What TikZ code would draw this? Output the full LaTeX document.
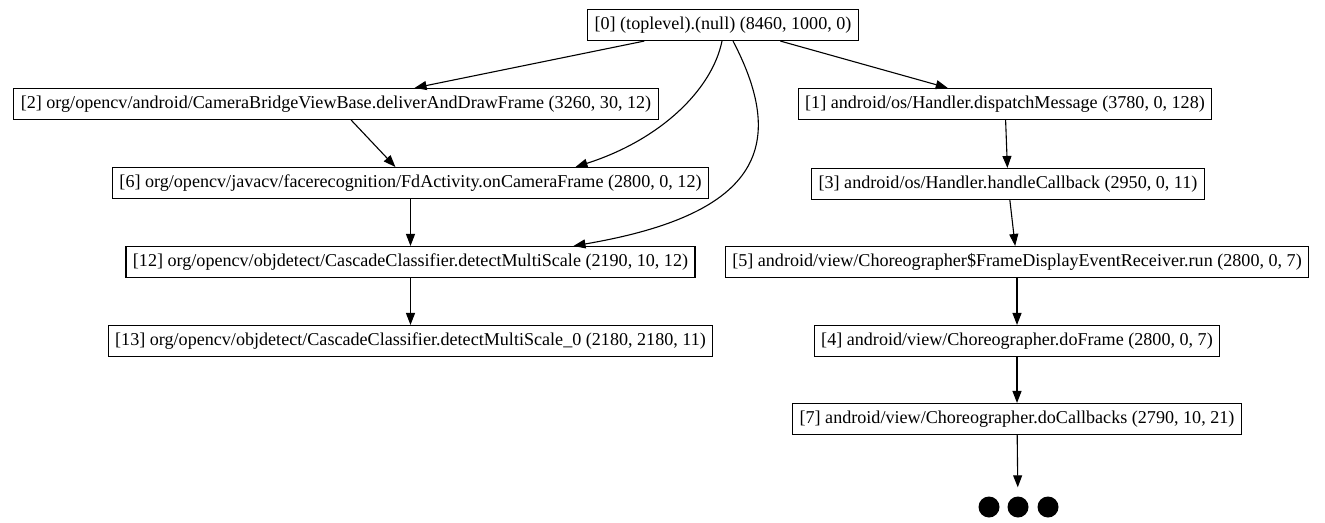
\documentclass[tikz,border=0pt]{standalone}
\usepackage{fontspec}
\setmainfont{Liberation Serif}
\usetikzlibrary{arrows.meta,calc}
\begin{document}
\begin{tikzpicture}[x=1pt,y=-1pt,
  fn/.style={draw=black, line width=1.1pt, rectangle, inner xsep=7pt, inner ysep=0pt,
    minimum height=31pt, font=\fontsize{18.1}{20}\selectfont},
  edge/.style={line width=1.1pt, -{Triangle[length=12pt,width=9pt]}},
  dotnode/.style={circle, fill=black, minimum size=21pt, inner sep=0pt}]
\useasboundingbox (0,0) rectangle (1325,522);
\fill[white] (0,0) rectangle (1325,522);
% nodes
\node[fn] (n0)  at (723,25)   {[0] (toplevel).(null) (8460, 1000, 0)};
\node[fn] (n2)  at (336,104)  {[2] org/opencv/android/CameraBridgeViewBase.deliverAndDrawFrame (3260, 30, 12)};
\node[fn] (n1)  at (1005,104) {[1] android/os/Handler.dispatchMessage (3780, 0, 128)};
\node[fn] (n6)  at (410.5,183)  {[6] org/opencv/javacv/facerecognition/FdActivity.onCameraFrame (2800, 0, 12)};
\node[fn] (n3)  at (1008,184) {[3] android/os/Handler.handleCallback (2950, 0, 11)};
\node[fn] (n12) at (410.5,262)  {[12] org/opencv/objdetect/CascadeClassifier.detectMultiScale (2190, 10, 12)};
\node[fn] (n5)  at (1017,262) {[5] android/view/Choreographer\$FrameDisplayEventReceiver.run (2800, 0, 7)};
\node[fn] (n13) at (410.5,341)  {[13] org/opencv/objdetect/CascadeClassifier.detectMultiScale\_0 (2180, 2180, 11)};
\node[fn] (n4)  at (1017,341) {[4] android/view/Choreographer.doFrame (2800, 0, 7)};
\node[fn] (n7)  at (1017,419) {[7] android/view/Choreographer.doCallbacks (2790, 10, 21)};
\node[dotnode] (d1) at (989,507) {};
\node[dotnode] (d2) at (1018,507) {};
\node[dotnode] (d3) at (1048,507) {};
% edges
\draw[edge] (n0) -- (n2);
\draw[edge] (n0) -- (n1);
\draw[edge] (n2) -- (n6);
\draw[edge] ($(n0.south)+(-1,0)$) .. controls (712,90) and (660,140) .. ($(n6.north)+(165,0)$);
\draw[edge] ($(n0.south)+(10,0)$) .. controls (790,150) and (755,215) .. ($(n12.north)+(163,0)$);
\draw[edge] (n6) -- (n12);
\draw[edge] (n12) -- (n13);
\draw[edge] (n1) -- (n3);
\draw[edge] (n3) -- (n5);
\draw[edge] (n5) -- (n4);
\draw[edge] (n4) -- (n7);
\draw[edge, shorten >=9pt] (n7) -- (d2);
\end{tikzpicture}
\end{document}
